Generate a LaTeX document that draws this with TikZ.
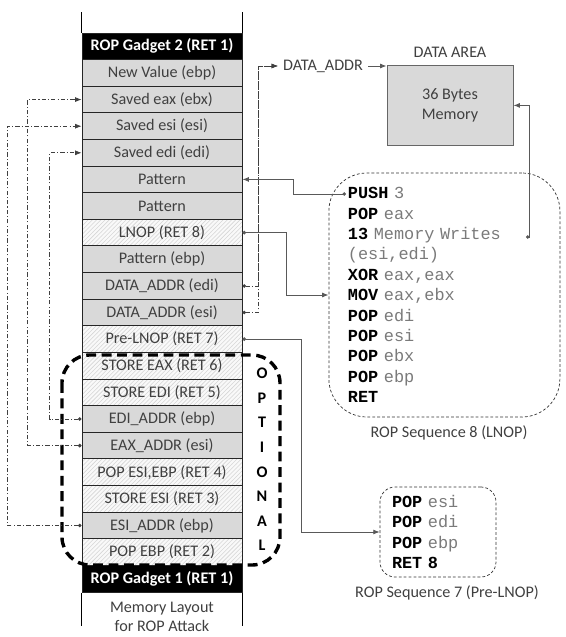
\documentclass[tikz,border=0pt]{standalone}
\usepackage{fontspec}
\setmainfont{Carlito}
\setmonofont{Liberation Mono}
\usetikzlibrary{arrows.meta,patterns}
\definecolor{cellgray}{HTML}{D9D9D9}
\definecolor{txtgray}{HTML}{404040}
\definecolor{codegray}{HTML}{7A7A7A}
\definecolor{linkgray}{HTML}{595959}
\def\kw#1{\textbf{#1}}
\def\op#1{\textcolor{codegray}{#1}}

\begin{document}
\begin{tikzpicture}[font=\fontsize{11.5}{14}\selectfont,line width=0.7pt,
	cell/.style={rectangle,draw=black!85,minimum width=4cm,minimum height=6.655mm,inner sep=0pt,text=txtgray},
	plain/.style={cell,fill=cellgray},
	hatch/.style={cell,preaction={fill=gray!5},pattern=north east lines,pattern color=gray!32},
	gadget/.style={cell,fill=black,text=white,font=\fontsize{11.5}{14}\selectfont\bfseries},
	seqbox/.style={rectangle,draw=black!80,dash pattern=on 2pt off 1.5pt,line width=0.5pt,align=left,
		font=\ttfamily\fontsize{12}{14.5}\selectfont},
	caption/.style={text=txtgray,align=center},
	link/.style={draw=linkgray,line width=0.6pt,-{Latex[length=4.5pt,width=3.5pt]}},
	dotlink/.style={link,{Circle[length=2.5pt]}-{Latex[length=4.5pt,width=3.5pt]}},
	ptr/.style={draw=black!75,line width=0.5pt,dash pattern=on 3pt off 1.5pt on 0.8pt off 1.5pt,
		{Circle[length=2.5pt]}-{Latex[length=4.5pt,width=3.5pt]}}]
	\useasboundingbox (0,0) rectangle (14.15,15.925);

	% memory stack
	\node (g2) at (4.05,14.767) [gadget] {ROP Gadget 2 (RET 1)};
	\node (newval) at (4.05,14.101) [plain] {New Value (ebp)};
	\node (seax) at (4.05,13.436) [plain] {Saved eax (ebx)};
	\node (sesi) at (4.05,12.770) [plain] {Saved esi (esi)};
	\node (sedi) at (4.05,12.105) [plain] {Saved edi (edi)};
	\node (pat1) at (4.05,11.439) [plain] {Pattern};
	\node (pat2) at (4.05,10.774) [plain] {Pattern};
	\node (lnop) at (4.05,10.108) [hatch] {LNOP (RET 8)};
	\node (patebp) at (4.05,9.443) [plain] {Pattern (ebp)};
	\node (daedi) at (4.05,8.777) [plain] {DATA\_ADDR (edi)};
	\node (daesi) at (4.05,8.112) [plain] {DATA\_ADDR (esi)};
	\node (prelnop) at (4.05,7.446) [hatch] {Pre-LNOP (RET 7)};
	\node (steax) at (4.05,6.781) [hatch] {STORE EAX (RET 6)};
	\node (stedi) at (4.05,6.115) [hatch] {STORE EDI (RET 5)};
	\node (ediaddr) at (4.05,5.450) [plain] {EDI\_ADDR (ebp)};
	\node (eaxaddr) at (4.05,4.784) [plain] {EAX\_ADDR (esi)};
	\node (popesiebp) at (4.05,4.119) [hatch] {POP ESI,EBP (RET 4)};
	\node (stesi) at (4.05,3.453) [hatch] {STORE ESI (RET 3)};
	\node (esiaddr) at (4.05,2.788) [plain] {ESI\_ADDR (ebp)};
	\node (popebp) at (4.05,2.122) [hatch] {POP EBP (RET 2)};
	\node (g1) at (4.05,1.457) [gadget] {ROP Gadget 1 (RET 1)};
	\draw (g2.north west) -- ++(0,0.525);
	\draw (g2.north east) -- ++(0,0.525);
	\draw (g1.south west) -- ++(0,-0.825);
	\draw (g1.south east) -- ++(0,-0.825);
	\node (layout) at (4.05,0.5) [caption] {Memory Layout\\for ROP Attack};

	% optional part
	\draw [line width=2.4pt,dash pattern=on 7pt off 4pt,rounded corners=0.7cm] (1.55,7.05) rectangle (7.0,1.8);
	\node (optional) at (6.55,4.44) [font=\fontsize{11.5}{17.5}\selectfont\bfseries,align=center] {O\\P\\T\\I\\O\\N\\A\\L};

	% data area
	\node (dataaddr) at (8.075,14.275) [caption] {DATA\_ADDR};
	\node (databox) at (11.25,13.29) [rectangle,draw=black!60,fill=cellgray,minimum width=3.15cm,minimum height=2.02cm,caption] {36 Bytes\\Memory};
	\node (dataarea) at (11.25,14.625) [caption] {DATA AREA};

	% rop sequences
	\node (seq8) at (11.11,8.55) [seqbox,rounded corners=0.95cm,minimum height=6.1cm,text width=4.825cm,inner xsep=0.475cm] {%
		\kw{PUSH} \op{3}\\
		\kw{POP} \op{eax}\\
		\kw{13} \op{Memory Writes}\\
		\op{(esi,edi)}\\
		\kw{XOR} \op{eax,eax}\\
		\kw{MOV} \op{eax,ebx}\\
		\kw{POP} \op{edi}\\
		\kw{POP} \op{esi}\\
		\kw{POP} \op{ebx}\\
		\kw{POP} \op{ebp}\\
		\kw{RET}};
	\node (seq8label) at (11.225,5.1) [caption] {ROP Sequence 8 (LNOP)};
	\node (seq7) at (10.95,2.625) [seqbox,rounded corners=0.375cm,minimum height=2.25cm,text width=2.3cm,inner xsep=0.3cm] {%
		\kw{POP} \op{esi}\\
		\kw{POP} \op{edi}\\
		\kw{POP} \op{ebp}\\
		\kw{RET 8}};
	\node (seq7label) at (11.175,1.1) [caption] {ROP Sequence 7 (Pre-LNOP)};
	\coordinate (push) at (8.65,11.075);
	\coordinate (writes) at (13.15,10.0);

	% pointers
	\draw [ptr] (esiaddr.west) -- ++(-1.85,0) |- (sesi.west);
	\draw [ptr] (eaxaddr.west) -- ++(-1.35,0) |- (seax.west);
	\draw [ptr] (ediaddr.west) -- ++(-0.8,0) |- (sedi.west);
	\draw [ptr] (daedi.east) -- ++(0.4,0) |- (dataaddr.west);
	\draw [ptr] (daesi.east) -- ++(0.4,0) |- (dataaddr.west);
	\draw [link] (dataaddr.east) -- (dataaddr.east -| databox.west);
	\draw [dotlink] (push) -- ++(-1.325,0) |- (pat1.east);
	\draw [dotlink] (lnop.east) -- ++(1.1,0) |- (seq8.west);
	\draw [dotlink] (prelnop.east) -- ++(1.475,0) |- (seq7.west);
	\draw [dotlink] (writes) -- ++(0.075,0) |- (databox.east);
\end{tikzpicture}
\end{document}
